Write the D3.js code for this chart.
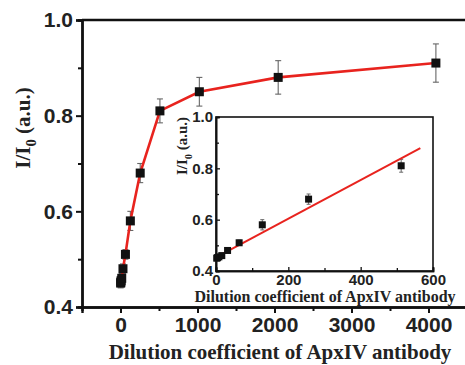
<!DOCTYPE html>
<html>
<head>
<meta charset="utf-8">
<script src="https://cdn.jsdelivr.net/npm/d3@7"></script>
<style>
  body { margin: 0; background: #fff; }
  svg { font-family: "Liberation Serif", "Times New Roman", serif; font-weight: bold; }
</style>
</head>
<body>
<svg id="chart" width="465" height="365"></svg>
<script>
// dilution coefficient and normalised intensity
let dilution = [2, 4, 8, 16, 32, 64, 128, 256, 512, 1024, 2048, 4096];
let ratio = [0.45, 0.452, 0.455, 0.46, 0.48, 0.51, 0.58, 0.68, 0.81, 0.85, 0.88, 0.91];
let errs = [0.01, 0.01, 0.01, 0.01, 0.01, 0.01, 0.02, 0.02, 0.025, 0.03, 0.035, 0.04];

// linear fit shown in the inset (x from 0 to ~565)
let fitX = [0, 565];
let fitY = [0.453, 0.879];

let mainXTicks = [0, 1000, 2000, 3000, 4000];
let mainYTicks = [0.4, 0.6, 0.8, 1.0];
let insetXTicks = [0, 200, 400, 600];
let insetYTicks = [0.4, 0.6, 0.8, 1.0];

let svg = d3.select("#chart");

function drawYLabel(g, x, y, size) {
  let t = g.append("text")
    .attr("transform", "translate(" + x + "," + y + ") rotate(-90)")
    .attr("text-anchor", "middle")
    .attr("fill", "#222")
    .style("font-size", size + "px");
  t.append("tspan").text("I/I");
  t.append("tspan").text("0").attr("dy", size * 0.3).style("font-size", size * 0.7 + "px");
  t.append("tspan").text(" (a.u.)").attr("dy", -size * 0.3);
}

// ---- main plot ----
let x = d3.scaleLinear().domain([-500, 4500]).range([82, 467]);
let y = d3.scaleLinear().domain([0.4, 1.0]).range([307, 20]);

let main = svg.append("g");

main.append("g")
  .attr("transform", "translate(0,307)")
  .call(d3.axisBottom(x).tickValues(mainXTicks).tickFormat(d3.format("d")).tickSize(6).tickPadding(4));
main.append("g")
  .attr("transform", "translate(0,307)")
  .call(d3.axisBottom(x).tickValues([500, 1500, 2500, 3500]).tickFormat("").tickSize(4));
main.append("g")
  .attr("transform", "translate(82,0)")
  .call(d3.axisLeft(y).tickValues(mainYTicks).tickFormat(d3.format(".1f")).tickSize(6).tickPadding(3));
main.append("g")
  .attr("transform", "translate(82,0)")
  .call(d3.axisLeft(y).tickValues([0.5, 0.7, 0.9]).tickFormat("").tickSize(4));
main.selectAll(".domain").attr("stroke-width", 2.4).attr("stroke", "#111");
main.selectAll(".tick line").attr("stroke-width", 2).attr("stroke", "#111");
main.selectAll(".tick text").style("font-size", "21px").attr("fill", "#222");
main.append("line")
  .attr("x1", 82).attr("x2", 465).attr("y1", 20).attr("y2", 20)
  .attr("stroke", "#111").attr("stroke-width", 2.4);

let pts = dilution.map((d, i) => ({ x: d, y: ratio[i], e: errs[i] }));

let bars = main.append("g").attr("stroke", "#666").attr("stroke-width", 1.1);
pts.forEach(function (p) {
  let cx = x(p.x);
  bars.append("line").attr("x1", cx).attr("x2", cx).attr("y1", y(p.y + p.e)).attr("y2", y(p.y - p.e));
  bars.append("line").attr("x1", cx - 3).attr("x2", cx + 3).attr("y1", y(p.y + p.e)).attr("y2", y(p.y + p.e));
  bars.append("line").attr("x1", cx - 3).attr("x2", cx + 3).attr("y1", y(p.y - p.e)).attr("y2", y(p.y - p.e));
});

main.append("path")
  .datum(pts)
  .attr("d", d3.line().x(d => x(d.x)).y(d => y(d.y)))
  .attr("fill", "none")
  .attr("stroke", "#e8231e")
  .attr("stroke-width", 2.6);

main.selectAll("rect.pt")
  .data(pts)
  .join("rect")
  .attr("class", "pt")
  .attr("x", d => x(d.x) - 4.5)
  .attr("y", d => y(d.y) - 4.5)
  .attr("width", 9).attr("height", 9)
  .attr("fill", "#111");

drawYLabel(main, 30, 128, 21);
main.append("text")
  .attr("x", 280).attr("y", 359)
  .attr("text-anchor", "middle")
  .style("font-size", "21px")
  .attr("fill", "#222")
  .text("Dilution coefficient of ApxIV antibody");

// ---- inset ----
let ix = d3.scaleLinear().domain([0, 600]).range([216, 433]);
let iy = d3.scaleLinear().domain([0.4, 1.0]).range([271, 117]);

let inset = svg.append("g");
inset.append("rect")
  .attr("x", 216).attr("y", 117).attr("width", 217).attr("height", 154)
  .attr("fill", "#fff").attr("stroke", "#111").attr("stroke-width", 1.6);

inset.append("g")
  .attr("transform", "translate(0,271)")
  .call(d3.axisBottom(ix).tickValues(insetXTicks).tickFormat(d3.format("d")).tickSize(-4).tickPadding(3));
inset.append("g")
  .attr("transform", "translate(0,271)")
  .call(d3.axisBottom(ix).tickValues([100, 300, 500]).tickFormat("").tickSize(-3));
inset.append("g")
  .attr("transform", "translate(216,0)")
  .call(d3.axisLeft(iy).tickValues(insetYTicks).tickFormat(d3.format(".1f")).tickSize(-4).tickPadding(3));
inset.append("g")
  .attr("transform", "translate(216,0)")
  .call(d3.axisLeft(iy).tickValues([0.5, 0.7, 0.9]).tickFormat("").tickSize(-3));
inset.selectAll(".domain").attr("stroke", "#111").attr("stroke-width", 1.6);
inset.selectAll(".tick line").attr("stroke", "#111").attr("stroke-width", 1.3);
inset.selectAll(".tick text").style("font-size", "15px").attr("fill", "#222");

let ipts = pts.filter(d => d.x <= 600);

let ibars = inset.append("g").attr("stroke", "#666").attr("stroke-width", 1);
ipts.forEach(function (p) {
  let cx = ix(p.x);
  ibars.append("line").attr("x1", cx).attr("x2", cx).attr("y1", iy(p.y + p.e)).attr("y2", iy(p.y - p.e));
  ibars.append("line").attr("x1", cx - 2).attr("x2", cx + 2).attr("y1", iy(p.y + p.e)).attr("y2", iy(p.y + p.e));
  ibars.append("line").attr("x1", cx - 2).attr("x2", cx + 2).attr("y1", iy(p.y - p.e)).attr("y2", iy(p.y - p.e));
});

inset.append("path")
  .datum(fitX.map((d, i) => [d, fitY[i]]))
  .attr("d", d3.line().x(d => ix(d[0])).y(d => iy(d[1])))
  .attr("stroke", "#e8231e")
  .attr("stroke-width", 2);

inset.selectAll("rect.ipt")
  .data(ipts)
  .join("rect")
  .attr("class", "ipt")
  .attr("x", d => ix(d.x) - 3.5)
  .attr("y", d => iy(d.y) - 3.5)
  .attr("width", 7).attr("height", 7)
  .attr("fill", "#111");

drawYLabel(inset, 187, 146, 15);
inset.append("text")
  .attr("x", 325).attr("y", 302)
  .attr("text-anchor", "middle")
  .style("font-size", "16px")
  .attr("fill", "#222")
  .text("Dilution coefficient of ApxIV antibody");
</script>
</body>
</html>
